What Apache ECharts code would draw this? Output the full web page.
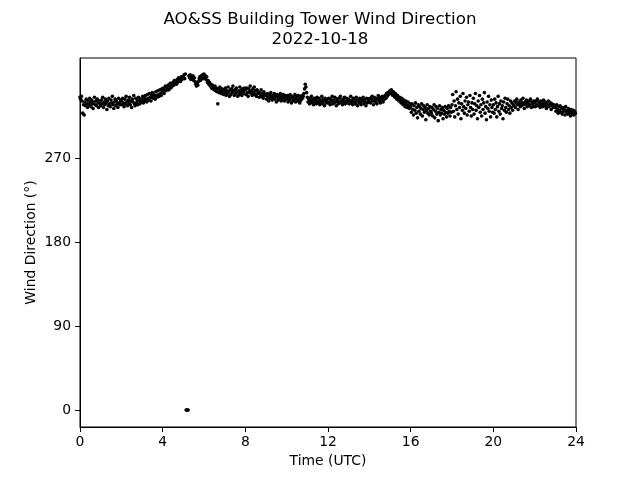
<!DOCTYPE html>
<html>
<head>
<meta charset="utf-8">
<script src="https://cdn.jsdelivr.net/npm/echarts@6/dist/echarts.min.js"></script>
<style>html,body{margin:0;padding:0;background:#fff}#c{width:640px;height:480px}</style>
</head>
<body>
<div id="c"></div>
<script>
// Wind direction readings (degrees), one every 2 minutes, rows = hours 0..23
const stepHours = 1 / 30;
const windDir = [
  335,333,336,331,318,327,316,330,326,333,328,324,331,327,334,329,325,332,328,323,330,335,327,331,326,333,329,324,331,328,
  326,332,328,335,324,330,327,333,329,322,331,326,334,328,325,332,329,336,327,323,330,333,326,331,328,324,334,329,327,332,
  331,327,334,329,325,333,328,336,330,326,332,329,335,327,331,324,333,330,337,328,326,334,329,332,327,335,331,328,333,330,
  332,336,329,334,331,337,333,330,338,334,332,339,335,331,337,340,334,338,336,333,341,337,335,342,338,336,343,339,337,344,
  341,345,339,343,347,342,346,344,348,343,347,350,345,349,347,351,348,353,350,352,349,354,351,356,353,355,352,357,354,356,
  357,359,355,360,0,0,0,0,358,356,359,354,357,355,358,353,356,352,349,347,350,348,352,355,357,353,358,356,359,355,
  360,356,358,354,357,351,353,349,351,347,349,345,348,344,346,343,347,342,345,341,328,344,340,346,342,339,344,341,338,343,
  340,345,337,342,339,346,341,336,343,338,344,340,347,342,337,343,339,345,341,336,342,338,346,340,343,337,344,341,339,345,
  343,338,345,340,336,344,341,347,339,342,337,344,340,346,338,342,336,343,339,341,335,340,338,343,336,339,334,341,337,338,
  337,333,339,335,331,338,334,340,336,332,337,334,339,333,336,330,338,335,332,337,334,339,331,336,333,338,335,331,337,334,
  333,337,330,335,332,338,334,329,336,331,335,333,338,330,334,336,331,337,333,329,335,332,337,334,336,339,344,349,346,340,
  335,330,333,328,334,331,336,329,332,327,334,330,333,328,335,331,329,334,327,332,330,336,328,333,331,326,334,329,332,330,
  329,334,330,327,333,331,336,328,332,329,335,330,326,333,331,328,334,330,336,329,332,327,333,330,335,328,331,334,329,332,
  333,328,331,336,329,332,327,334,330,333,328,335,331,326,332,329,334,330,327,333,331,335,328,332,330,326,334,329,333,331,
  330,334,329,333,336,331,327,335,332,330,334,328,333,337,331,335,329,334,332,336,330,335,333,337,334,339,336,340,338,341,
  342,339,343,340,337,341,338,335,339,336,333,337,334,331,335,332,329,334,330,327,332,329,325,331,327,324,330,326,323,328,
  325,319,328,322,316,326,321,329,318,324,313,327,320,325,317,323,328,315,322,326,319,324,311,321,327,318,323,316,325,320,
  318,324,315,322,327,313,320,325,317,323,310,319,326,316,322,318,324,312,321,317,325,319,314,323,318,326,320,315,324,319,
  327,338,320,331,314,326,341,322,333,317,329,324,336,312,328,321,339,325,318,331,323,335,316,327,330,320,337,324,315,329,
  322,334,317,328,339,321,326,312,331,324,337,319,327,315,333,322,329,340,318,325,311,330,323,336,320,327,314,332,324,319,
  327,318,333,322,329,314,325,336,320,328,317,331,323,326,312,330,321,334,324,319,328,333,322,326,318,331,324,329,321,327,
  326,331,324,329,333,327,322,330,328,325,332,326,329,334,327,323,330,328,332,325,329,326,331,327,333,324,330,328,325,331,
  329,325,331,327,333,326,330,328,324,331,327,329,325,332,328,326,330,323,328,326,331,325,327,329,322,328,326,324,327,325,
  324,320,327,322,318,325,321,326,319,323,317,324,320,322,316,325,319,321,317,323,318,320,315,322,319,317,321,316,320,318
];
const xTicks = [0, 4, 8, 12, 16, 20, 24];
const yTicks = [0, 90, 180, 270];
const titleText = 'AO&SS Building Tower Wind Direction\n2022-10-18';

const points = windDir.map((v, i) => [i * stepHours, v]);
const font = 'DejaVu Sans';
const chart = echarts.init(document.getElementById('c'), null, {renderer: 'canvas'});
chart.setOption({
  animation: false,
  backgroundColor: '#fff',
  textStyle: {fontFamily: font},
  title: {
    text: titleText, left: 'center', top: 5,
    textStyle: {fontFamily: font, fontSize: 16.7, fontWeight: 'normal', color: '#000', lineHeight: 20}
  },
  grid: {left: 80, right: 64, top: 58, bottom: 53, show: true, borderColor: '#000', borderWidth: 1, backgroundColor: 'transparent'},
  xAxis: {
    type: 'value', min: 0, max: 24, interval: 4,
    name: 'Time (UTC)', nameLocation: 'middle', nameGap: 27, nameMoveOverlap: false,
    nameTextStyle: {fontFamily: font, fontSize: 13.9, color: '#000'},
    axisLine: {show: true, onZero: false, lineStyle: {color: '#000', width: 1}},
    axisTick: {show: true, inside: false, length: 5, lineStyle: {color: '#000'}, customValues: xTicks},
    axisLabel: {fontFamily: font, fontSize: 13.9, color: '#000', margin: 8, customValues: xTicks},
    splitLine: {show: false}
  },
  yAxis: {
    type: 'value', min: -18.2, max: 377.1,
    name: 'Wind Direction (°)', nameLocation: 'middle', nameGap: 42, nameRotate: 90, nameMoveOverlap: false,
    nameTextStyle: {fontFamily: font, fontSize: 13.9, color: '#000'},
    axisLine: {show: true, onZero: false, lineStyle: {color: '#000', width: 1}},
    axisTick: {show: true, inside: false, length: 5, lineStyle: {color: '#000'}, customValues: yTicks},
    axisLabel: {fontFamily: font, fontSize: 13.9, color: '#000', margin: 9, customValues: yTicks},
    splitLine: {show: false}
  },
  series: [{
    type: 'scatter', data: points, symbol: 'circle', symbolSize: 3.6,
    itemStyle: {color: '#000', opacity: 1}, silent: true
  }]
});
</script>
</body>
</html>
